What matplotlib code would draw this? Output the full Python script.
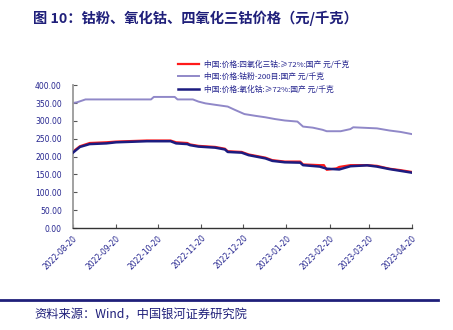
import matplotlib
matplotlib.use("Agg")
import matplotlib.pyplot as plt
import pandas as pd

plt.rcParams['font.family'] = ['Noto Sans CJK SC', 'DejaVu Sans']

# ---- data ----
red_dates = ["2022-08-20", "2022-08-25", "2022-09-01", "2022-09-13", "2022-09-20", "2022-10-12",
             "2022-10-29", "2022-11-02", "2022-11-10", "2022-11-12", "2022-11-18", "2022-11-30",
             "2022-12-07", "2022-12-09", "2022-12-19", "2022-12-24", "2023-01-05", "2023-01-10",
             "2023-01-19", "2023-01-30", "2023-02-01", "2023-02-13", "2023-02-16", "2023-02-18",
             "2023-02-25", "2023-02-27", "2023-03-07", "2023-03-19", "2023-03-26", "2023-04-04",
             "2023-04-12", "2023-04-20"]
red_vals = [214, 229, 238, 240, 242, 245, 245, 240, 238, 234, 230, 227,
            222, 215, 213, 206, 197, 190, 186, 186, 178, 176, 176, 163,
            167, 171, 176, 176, 174, 166, 162, 157]

purple_dates = ["2022-08-20", "2022-08-23", "2022-08-29", "2022-10-15", "2022-10-17", "2022-11-01",
                "2022-11-03", "2022-11-14", "2022-11-18", "2022-11-23", "2022-11-30", "2022-12-09",
                "2022-12-14", "2022-12-21", "2022-12-29", "2023-01-05", "2023-01-12", "2023-01-19",
                "2023-01-28", "2023-02-01", "2023-02-08", "2023-02-15", "2023-02-18", "2023-02-28",
                "2023-03-07", "2023-03-09", "2023-03-26", "2023-04-04", "2023-04-12", "2023-04-20"]
purple_vals = [350, 352, 360, 360, 367, 367, 360, 360, 354, 349, 345, 340,
               331, 319, 314, 310, 305, 301, 298, 284, 281, 275, 271, 271,
               277, 282, 279, 273, 269, 263]

blue_dates = ["2022-08-20", "2022-08-25", "2022-09-01", "2022-09-13", "2022-09-20", "2022-10-12",
              "2022-10-29", "2022-11-02", "2022-11-10", "2022-11-12", "2022-11-18", "2022-11-30",
              "2022-12-07", "2022-12-09", "2022-12-19", "2022-12-24", "2023-01-05", "2023-01-10",
              "2023-01-19", "2023-01-30", "2023-02-01", "2023-02-13", "2023-02-18", "2023-02-27",
              "2023-03-07", "2023-03-19", "2023-03-26", "2023-04-04", "2023-04-12", "2023-04-20"]
blue_vals = [211, 227, 235, 237, 240, 243, 243, 237, 235, 232, 228, 225,
             220, 213, 211, 204, 195, 188, 184, 183, 176, 172, 166, 164,
             173, 175.5, 172, 165, 160, 155]

series_labels = ["中国:价格:四氧化三钴:≥72%:国产 元/千克",
                 "中国:价格:钴粉-200目:国产 元/千克",
                 "中国:价格:氧化钴:≥72%:国产 元/千克"]
xtick_labels = ["2022-08-20", "2022-09-20", "2022-10-20", "2022-11-20", "2022-12-20",
                "2023-01-20", "2023-02-20", "2023-03-20", "2023-04-20"]
yticks = [0, 50, 100, 150, 200, 250, 300, 350, 400]

title = "图 10：钴粉、氧化钴、四氧化三钴价格（元/千克）"
source = "资料来源：Wind，中国银河证券研究院"

# ---- style ----
navy = "#1f1f7a"
txt = "#25258f"
fig = plt.figure(figsize=(4.53, 3.30), dpi=100)
ax = fig.add_axes([0.161, 0.309, 0.748, 0.433])

ax.plot(pd.to_datetime(red_dates), red_vals, color="#ff1a1a", lw=1.6, label=series_labels[0], zorder=2)
ax.plot(pd.to_datetime(purple_dates), purple_vals, color="#9088c8", lw=1.4, label=series_labels[1], zorder=2)
ax.plot(pd.to_datetime(blue_dates), blue_vals, color="#1c1c80", lw=1.8, label=series_labels[2], zorder=3)

ax.set_ylim(0, 400)
ax.set_yticks(yticks)
ax.set_yticklabels([f"{v:.2f}" for v in yticks], fontsize=5.5, color=txt, family=['DejaVu Sans'])
xt = pd.to_datetime(xtick_labels)
ax.set_xlim(xt[0], xt[-1])
ax.set_xticks(xt)
ax.set_xticklabels(xtick_labels, rotation=45, ha='right', va='top', rotation_mode='anchor',
                   fontsize=5.5, color=txt, family=['DejaVu Sans'])
ax.tick_params(axis='both', direction='in', length=3, width=0.8, colors="#555555")
ax.tick_params(axis='y', pad=8)
ax.tick_params(axis='x', pad=4)
for lab in ax.get_xticklabels() + ax.get_yticklabels():
    lab.set_color(txt)

for s in ["top", "right"]:
    ax.spines[s].set_visible(False)
ax.spines["left"].set_color("#9a9a9a")
ax.spines["left"].set_linewidth(1.3)
ax.spines["bottom"].set_color("#333333")
ax.spines["bottom"].set_linewidth(1.0)

leg = ax.legend(loc="upper left", bbox_to_anchor=(0.30, 1.195), frameon=False,
                fontsize=5.6, handlelength=2.8, labelspacing=0.55, borderaxespad=0, handletextpad=0.6)
for t in leg.get_texts():
    t.set_color(txt)

fig.text(0.073, 0.945, title, fontsize=10.3, fontweight='bold', color=navy, va='center', ha='left')
fig.add_artist(plt.Line2D([0.0, 0.967], [0.091, 0.091], color=navy, lw=2.0, transform=fig.transFigure))
fig.text(0.075, 0.045, source, fontsize=8.8, style='italic', color=navy, va='center', ha='left')

fig.savefig("out.png", dpi=100)
